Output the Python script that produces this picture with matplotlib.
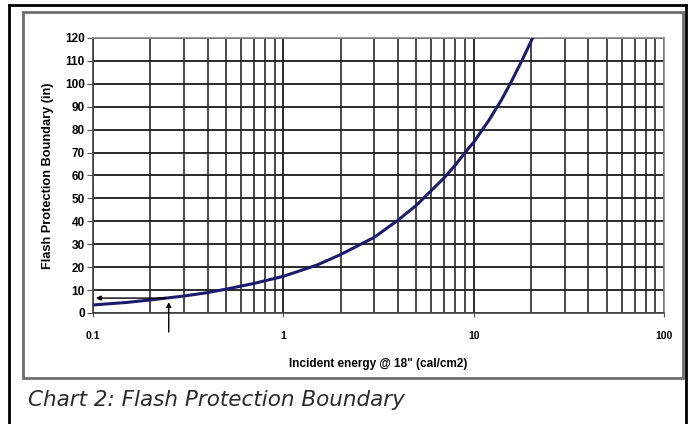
import matplotlib
matplotlib.use("Agg")
import matplotlib.pyplot as plt
from matplotlib.lines import Line2D
from matplotlib.patches import Rectangle

# incident energy (cal/cm2) vs flash protection boundary (in)
energy = [0.1, 0.15, 0.2, 0.3, 0.4, 0.5, 0.7, 1.0, 1.5, 2.0, 3.0, 4.0, 5.0,
          6.0, 7.0, 8.0, 9.0, 10.0, 12.0, 14.0, 16.0, 18.0, 20.4]
boundary = [3.5, 4.6, 5.7, 7.4, 8.9, 10.4, 12.9, 16.0, 20.9, 25.5, 33.0, 40.5,
            47.0, 53.5, 59.0, 64.5, 70.0, 74.5, 84.0, 93.0, 102.0, 110.5, 120.0]

x_ticks = [0.1, 1, 10, 100]
x_ticklabels = ["0.1", "1", "10", "100"]
y_ticks = list(range(0, 121, 10))

# worked example marked with arrows
example_energy = 0.25
example_boundary = 6.5

fig = plt.figure(figsize=(6.93, 4.24), dpi=100)
ax = fig.add_axes([0.1342, 0.2618, 0.824, 0.6486])

# outer black border and inner grey chart frame
for xs, ys in [([0.013, 0.013], [0, 0.988]), ([0.013, 0.99], [0.988, 0.988]),
               ([0.99, 0.99], [0, 0.988])]:
    fig.add_artist(Line2D(xs, ys, transform=fig.transFigure, color="black", lw=2))
fig.add_artist(Rectangle((0.0332, 0.1085), 0.952, 0.863, transform=fig.transFigure,
                         fill=False, edgecolor="#6e6e6e", lw=2))

ax.set_xscale("log")
ax.set_xlim(0.1, 100)
ax.set_ylim(0, 120)

ax.plot(energy, boundary, color="#1c1a6b", lw=2.2, solid_capstyle="round",
        solid_joinstyle="round", zorder=5)

# grid
ax.grid(True, which="major", axis="both", color="#2a2a2a", lw=1.4)
ax.grid(True, which="minor", axis="x", color="#3a3a3a", lw=1.3)
ax.set_axisbelow(True)

# arrows for the example reading
ax.annotate("", xy=(0.1, example_boundary), xytext=(example_energy, example_boundary),
            arrowprops=dict(arrowstyle="-|>", color="black", lw=1, mutation_scale=7),
            zorder=6)
ax.annotate("", xy=(example_energy, example_boundary - 0.5),
            xytext=(example_energy, -9.5),
            arrowprops=dict(arrowstyle="-|>", color="black", lw=1, mutation_scale=7),
            annotation_clip=False, zorder=6)

font = ["Liberation Sans", "DejaVu Sans"]
ax.set_xticks(x_ticks)
ax.set_xticklabels(x_ticklabels, fontfamily=font, fontweight="bold", fontsize=7.5)
ax.set_yticks(y_ticks)
ax.set_yticklabels([str(v) for v in y_ticks], fontfamily=font, fontweight="bold",
                   fontsize=8.5)
ax.tick_params(axis="x", which="both", length=3, color="#555", pad=10)
ax.tick_params(axis="x", which="minor", length=0)
ax.tick_params(axis="y", length=4, color="#555", pad=2)

for side, spine in ax.spines.items():
    spine.set_color("#8a8a8a" if side in ("top", "right") else "#444")
    spine.set_linewidth(1.2)

ax.set_xlabel('Incident energy @ 18" (cal/cm2)', fontfamily=font, fontweight="bold",
              fontsize=8.5, labelpad=12)
ax.set_ylabel("Flash Protection Boundary (in)", fontfamily=font, fontweight="bold",
              fontsize=9.2, labelpad=8)

fig.text(0.04, 0.056, "Chart 2: Flash Protection Boundary", fontfamily="DejaVu Sans",
         fontstyle="oblique", fontsize=15.5, color="#2a2a2a",
         va="center", ha="left")

fig.savefig("out.png", dpi=100, facecolor="white")
